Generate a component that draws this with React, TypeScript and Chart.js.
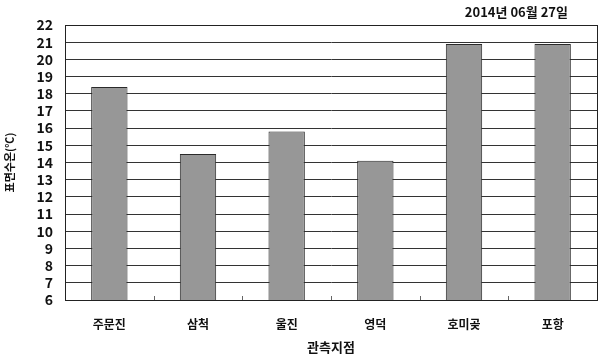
import React, { useEffect, useRef } from "react";
import { Chart, registerables } from "chart.js";

Chart.register(...registerables);

const categories = ["주문진", "삼척", "울진", "영덕", "호미곶", "포항"];
const temperatures = [18.4, 14.5, 15.8, 14.1, 20.9, 20.9];
const yMin = 6;
const yMax = 22;
const yStep = 1;
const titleText = "2014년 06월 27일";
const yTitle = "표면수온(℃)";
const xTitle = "관측지점";

const FONT = '"Noto Sans CJK KR", "Noto Sans", sans-serif';

const framePlugin = {
  id: "frame",
  afterDraw(chart: any) {
    const { ctx, chartArea } = chart;
    const { left, right, top, bottom } = chartArea;
    ctx.save();
    ctx.strokeStyle = "#222";
    ctx.lineWidth = 1;
    ctx.strokeRect(Math.round(left) + 0.5, Math.round(top) + 0.5, Math.round(right - left), Math.round(bottom - top));
    // small inner ticks at category boundaries
    const xs = chart.scales.x;
    const n = categories.length;
    ctx.strokeStyle = "#666";
    for (let i = 1; i < n; i++) {
      const x = Math.round((xs.getPixelForValue(i - 1) + xs.getPixelForValue(i)) / 2) + 0.5;
      ctx.beginPath();
      ctx.moveTo(x, bottom - 4);
      ctx.lineTo(x, bottom);
      ctx.stroke();
    }
    ctx.fillStyle = "#111";
    ctx.font = `bold 13px ${FONT}`;
    ctx.textAlign = "right";
    ctx.textBaseline = "middle";
    ctx.fillText(titleText, 568, 12);
    ctx.restore();
  },
};

export default function App() {
  const ref = useRef<HTMLCanvasElement>(null);
  useEffect(() => {
    if (!ref.current) return;
    const chart = new Chart(ref.current, {
      type: "bar",
      data: {
        labels: categories,
        datasets: [
          {
            data: temperatures,
            backgroundColor: "#979797",
            borderColor: "#2a2a2a",
            borderWidth: 1,
            categoryPercentage: 0.41,
            barPercentage: 1,
          },
        ],
      },
      options: {
        responsive: false,
        animation: false,
        layout: { padding: { top: 25, right: 4, left: 0, bottom: 0 } },
        plugins: {
          legend: { display: false },
          tooltip: { enabled: false },
        },
        scales: {
          x: {
            grid: { display: false },
            border: { display: true, color: "#222" },
            ticks: {
              color: "#111",
              font: { family: FONT, size: 12, weight: "bold" },
              padding: 9,
              autoSkip: false,
              maxRotation: 0,
            },
            title: {
              display: true,
              text: xTitle,
              color: "#111",
              font: { family: FONT, size: 13, weight: "bold" },
              padding: { top: 2, bottom: 1 },
            },
            afterFit: (s: any) => {
              s.height = 56;
            },
          },
          y: {
            min: yMin,
            max: yMax,
            ticks: {
              stepSize: yStep,
              autoSkip: false,
              color: "#111",
              font: { family: FONT, size: 14, weight: "bold" },
              padding: 12,
            },
            grid: { color: "#333", drawTicks: false },
            border: { display: true, color: "#222" },
            title: {
              display: true,
              text: yTitle,
              color: "#111",
              font: { family: FONT, size: 11, weight: "bold" },
              padding: { top: 3, bottom: 0 },
            },
            afterFit: (s: any) => {
              s.width = 65;
            },
          },
        },
      },
      plugins: [framePlugin],
    });
    return () => chart.destroy();
  }, []);
  return (
    <div style={{ position: "fixed", left: 0, top: 0, width: 601, height: 356, background: "#fff" }}>
      <canvas ref={ref} width={601} height={356} />
    </div>
  );
}
